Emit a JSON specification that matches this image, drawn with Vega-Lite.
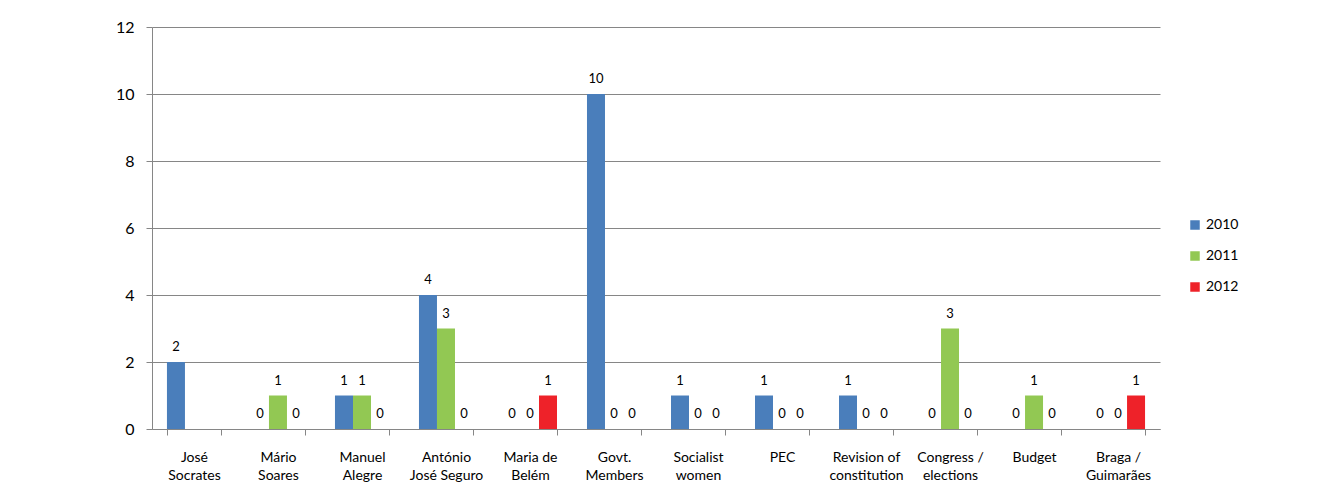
{
  "$schema": "https://vega.github.io/schema/vega-lite/v6.json",
  "autosize": {"type": "none"},
  "padding": {"left": 152, "top": 27, "right": 180, "bottom": 66},
  "width": 1008,
  "height": 402,
  "background": "white",
  "config": {
    "font": "Lato",
    "view": {"stroke": null}
  },
  "data": {
    "values": [
      {"topic": "José\nSocrates", "year": "2010", "count": 2},
      {"topic": "José\nSocrates", "year": "2011", "count": null},
      {"topic": "José\nSocrates", "year": "2012", "count": null},
      {"topic": "Mário\nSoares", "year": "2010", "count": 0},
      {"topic": "Mário\nSoares", "year": "2011", "count": 1},
      {"topic": "Mário\nSoares", "year": "2012", "count": 0},
      {"topic": "Manuel\nAlegre", "year": "2010", "count": 1},
      {"topic": "Manuel\nAlegre", "year": "2011", "count": 1},
      {"topic": "Manuel\nAlegre", "year": "2012", "count": 0},
      {"topic": "António\nJosé Seguro", "year": "2010", "count": 4},
      {"topic": "António\nJosé Seguro", "year": "2011", "count": 3},
      {"topic": "António\nJosé Seguro", "year": "2012", "count": 0},
      {"topic": "Maria de\nBelém", "year": "2010", "count": 0},
      {"topic": "Maria de\nBelém", "year": "2011", "count": 0},
      {"topic": "Maria de\nBelém", "year": "2012", "count": 1},
      {"topic": "Govt.\nMembers", "year": "2010", "count": 10},
      {"topic": "Govt.\nMembers", "year": "2011", "count": 0},
      {"topic": "Govt.\nMembers", "year": "2012", "count": 0},
      {"topic": "Socialist\nwomen", "year": "2010", "count": 1},
      {"topic": "Socialist\nwomen", "year": "2011", "count": 0},
      {"topic": "Socialist\nwomen", "year": "2012", "count": 0},
      {"topic": "PEC", "year": "2010", "count": 1},
      {"topic": "PEC", "year": "2011", "count": 0},
      {"topic": "PEC", "year": "2012", "count": 0},
      {"topic": "Revision of\nconstitution", "year": "2010", "count": 1},
      {"topic": "Revision of\nconstitution", "year": "2011", "count": 0},
      {"topic": "Revision of\nconstitution", "year": "2012", "count": 0},
      {"topic": "Congress /\nelections", "year": "2010", "count": 0},
      {"topic": "Congress /\nelections", "year": "2011", "count": 3},
      {"topic": "Congress /\nelections", "year": "2012", "count": 0},
      {"topic": "Budget", "year": "2010", "count": 0},
      {"topic": "Budget", "year": "2011", "count": 1},
      {"topic": "Budget", "year": "2012", "count": 0},
      {"topic": "Braga /\nGuimarães", "year": "2010", "count": 0},
      {"topic": "Braga /\nGuimarães", "year": "2011", "count": 0},
      {"topic": "Braga /\nGuimarães", "year": "2012", "count": 1}
    ]
  },
  "transform": [{"filter": "isValid(datum.count)"}],
  "encoding": {
    "x": {
      "field": "topic",
      "type": "nominal",
      "sort": null,
      "scale": {"paddingInner": 0.357, "paddingOuter": 0.178},
      "axis": {
        "title": null,
        "labelAngle": 0,
        "labelExpr": "split(datum.label, '\\n')",
        "labelFontSize": 14,
        "labelLineHeight": 18,
        "labelColor": "#000000",
        "labelPadding": 15,
        "labelBaseline": "top",
        "tickBand": "extent",
        "tickColor": "#868686",
        "tickSize": 6,
        "domainColor": "#868686",
        "grid": false
      }
    },
    "xOffset": {
      "field": "year",
      "type": "nominal",
      "scale": {"domain": ["2010", "2011", "2012"], "paddingInner": 0, "paddingOuter": 0}
    },
    "y": {
      "field": "count",
      "type": "quantitative",
      "scale": {"domain": [0, 12]},
      "axis": {
        "title": null,
        "values": [0, 2, 4, 6, 8, 10, 12],
        "labelFontSize": 16,
        "labelColor": "#000000",
        "labelPadding": 12,
        "tickColor": "#868686",
        "tickSize": 6,
        "gridColor": "#868686",
        "domainColor": "#868686"
      }
    }
  },
  "layer": [
    {
      "mark": {"type": "bar"},
      "encoding": {
        "color": {
          "field": "year",
          "type": "nominal",
          "scale": {"domain": ["2010", "2011", "2012"], "range": ["#4A7EBB", "#92C853", "#EE2229"]},
          "legend": {
            "title": null,
            "orient": "none",
            "legendX": 1036,
            "legendY": 191,
            "symbolType": "square",
            "symbolSize": 90,
            "symbolStrokeWidth": 0,
            "labelFontSize": 14,
            "labelColor": "#000000",
            "rowPadding": 17,
            "labelOffset": 4
          }
        }
      }
    },
    {
      "mark": {"type": "text", "baseline": "bottom", "dy": -8, "fontSize": 13, "color": "#000000"},
      "encoding": {
        "text": {"field": "count", "type": "quantitative"}
      }
    }
  ]
}
